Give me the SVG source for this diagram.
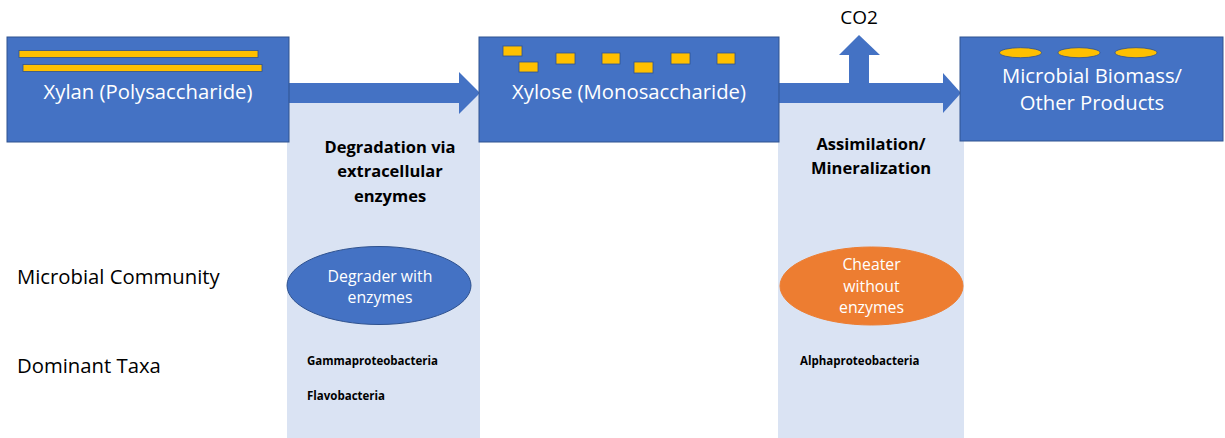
<svg xmlns="http://www.w3.org/2000/svg" width="1225" height="438" viewBox="0 0 1225 438">
<style>
.col{fill:#DAE3F3}
.box{fill:#4472C4;stroke:#2F528F;stroke-width:1}
.arrow{fill:#4472C4}
.bar{fill:#FFC000;stroke:#2F528F;stroke-width:0.8}
.t{font-family:"Open Sans","Liberation Sans",sans-serif}
.wt{fill:#FFFFFF;font-size:20.3px;text-anchor:middle}
.hd{fill:#000000;font-size:16.5px;font-weight:bold;text-anchor:middle}
.lbl{fill:#000000;font-size:20.3px}
.tx{fill:#000000;font-size:11.5px;font-weight:bold}
.et{fill:#FFFFFF;font-size:15.8px;text-anchor:middle}
</style>
<rect width="1225" height="438" fill="#FFFFFF"/>
<g id="col-degradation"><rect class="col" x="287" y="95" width="193" height="343"/></g>
<g id="col-assimilation"><rect class="col" x="778" y="95" width="186" height="343"/></g>
<g id="connectors">
<polygon class="arrow" points="285,83 459,83 459,72 480,93 459,114 459,103 285,103"/>
<polygon class="arrow" points="775,83 943,83 943,73 961,93 943,113 943,103 775,103"/>
<polygon class="arrow" points="849,85 849,55 839,55 859,35 880,55 869,55 869,85"/>
</g>
<g id="node-xylan">
<rect class="box" x="7" y="37" width="282" height="105"/>
<rect class="bar" x="19" y="50.5" width="239" height="7"/>
<rect class="bar" x="23" y="64.5" width="239" height="7"/>
<text class="t wt" x="148" y="99">Xylan (Polysaccharide)</text>
</g>
<g id="node-xylose">
<rect class="box" x="479" y="37" width="300" height="105"/>
<rect class="bar" x="503" y="46" width="19" height="10"/>
<rect class="bar" x="519" y="62" width="19" height="10"/>
<rect class="bar" x="556" y="53" width="19" height="11"/>
<rect class="bar" x="602" y="53" width="18" height="11"/>
<rect class="bar" x="634" y="62" width="19" height="11"/>
<rect class="bar" x="671" y="53" width="19" height="11"/>
<rect class="bar" x="717" y="53" width="18" height="11"/>
<text class="t wt" x="629" y="99">Xylose (Monosaccharide)</text>
</g>
<g id="node-biomass">
<rect class="box" x="960" y="37" width="263" height="104"/>
<ellipse class="bar" cx="1020.5" cy="52.7" rx="21" ry="5"/>
<ellipse class="bar" cx="1079" cy="52.7" rx="21" ry="5"/>
<ellipse class="bar" cx="1136" cy="52.7" rx="21" ry="5"/>
<text class="t wt" x="1092" y="83">Microbial Biomass/</text>
<text class="t wt" x="1092" y="110">Other Products</text>
</g>
<g id="label-co2"><text class="t" x="859" y="24" font-size="19" fill="#000" text-anchor="middle">CO2</text></g>
<g id="label-degradation">
<text class="t hd" x="390" y="153">Degradation via</text>
<text class="t hd" x="390" y="177">extracellular</text>
<text class="t hd" x="390" y="202">enzymes</text>
</g>
<g id="label-assimilation">
<text class="t hd" x="871" y="150">Assimilation/</text>
<text class="t hd" x="871" y="174">Mineralization</text>
</g>
<g id="node-degrader">
<ellipse cx="379" cy="285.5" rx="92" ry="39" fill="#4472C4" stroke="#2F528F" stroke-width="1"/>
<text class="t et" x="380" y="281.5">Degrader with</text>
<text class="t et" x="380" y="303">enzymes</text>
</g>
<g id="node-cheater">
<ellipse cx="871.5" cy="286" rx="91.5" ry="39" fill="#ED7D31" stroke="#ED7D31" stroke-width="1"/>
<text class="t et" x="871.5" y="270">Cheater</text>
<text class="t et" x="871.5" y="291.5">without</text>
<text class="t et" x="871.5" y="313">enzymes</text>
</g>
<g id="labels-left">
<text class="t lbl" x="17" y="284">Microbial Community</text>
<text class="t lbl" x="17" y="373">Dominant Taxa</text>
</g>
<g id="taxa">
<text class="t tx" x="307" y="365">Gammaproteobacteria</text>
<text class="t tx" x="307" y="400">Flavobacteria</text>
<text class="t tx" x="800" y="365">Alphaproteobacteria</text>
</g>
</svg>
